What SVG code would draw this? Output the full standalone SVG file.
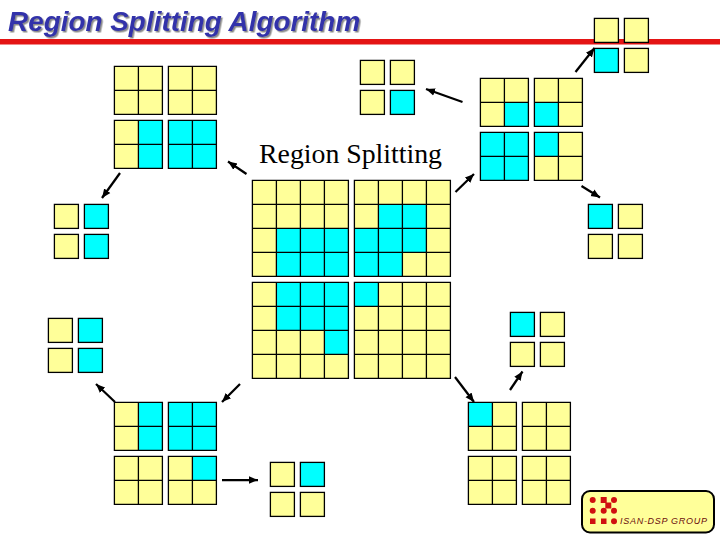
<svg xmlns="http://www.w3.org/2000/svg" width="720" height="540" viewBox="0 0 720 540">
<style>
.y{fill:#ffff99}
.c{fill:#00ffff}
.s{fill:#ffff99;stroke:#000;stroke-width:1.3}
.t{fill:#00ffff;stroke:#000;stroke-width:1.3}
.g{fill:none;stroke:#000;stroke-width:1.3}
.a{fill:none;stroke:#000;stroke-width:2.25;marker-end:url(#ah)}
.r{fill:#d01010}
</style>
<defs>
<marker id="ah" markerUnits="userSpaceOnUse" markerWidth="10" markerHeight="10" refX="9" refY="5" orient="auto"><path d="M0 1.2L9 5L0 8.8z" fill="#000"/></marker>
<path id="g2" class="g" d="M0 0h48v48h-48zM24 0v48M0 24h48"/>
<path id="g4" class="g" d="M0 0h96v96h-96zM24 0v96M48 0v96M72 0v96M0 24h96M0 48h96M0 72h96"/>
<filter id="sh" x="-5%" y="-20%" width="110%" height="150%"><feDropShadow dx="1.5" dy="1.5" stdDeviation="0.6" flood-color="#8a8a8a" flood-opacity="1"/></filter>
</defs>
<rect width="720" height="540" fill="#fff"/>
<rect x="0" y="39" width="720" height="5.5" fill="#e41414"/>
<text x="8" y="31" font-family="'Liberation Sans',Arial,sans-serif" font-size="27.9" font-weight="bold" font-style="italic" fill="#3333aa" filter="url(#sh)">Region Splitting Algorithm</text>
<text x="259" y="163" font-family="'Liberation Serif','Times New Roman',serif" font-size="27.8" fill="#000">Region Splitting</text>

<g id="main">
<g id="main-tl" transform="translate(252.4,180.4)"><rect class="y" width="96" height="96"/><path class="c" d="M24 48h72v48h-72z"/><use href="#g4"/></g>
<g id="main-tr" transform="translate(354.4,180.4)"><rect class="y" width="96" height="96"/><path class="c" d="M24 24h48v48h-24v24h-48v-48h24z"/><use href="#g4"/></g>
<g id="main-bl" transform="translate(252.4,282.4)"><rect class="y" width="96" height="96"/><path class="c" d="M24 0h72v72h-24v-24h-48z"/><use href="#g4"/></g>
<g id="main-br" transform="translate(354.4,282.4)"><rect class="y" width="96" height="96"/><rect class="c" width="24" height="24"/><use href="#g4"/></g>
</g>

<g id="top-left">
<g transform="translate(114.4,66.4)"><rect class="y" width="48" height="48"/><use href="#g2"/></g>
<g transform="translate(168.4,66.4)"><rect class="y" width="48" height="48"/><use href="#g2"/></g>
<g transform="translate(114.4,120.4)"><rect class="y" width="48" height="48"/><rect class="c" x="24" width="24" height="48"/><use href="#g2"/></g>
<g transform="translate(168.4,120.4)"><rect class="c" width="48" height="48"/><use href="#g2"/></g>
</g>

<g id="top-right">
<g transform="translate(480.4,78.4)"><rect class="y" width="48" height="48"/><rect class="c" x="24" y="24" width="24" height="24"/><use href="#g2"/></g>
<g transform="translate(534.4,78.4)"><rect class="y" width="48" height="48"/><rect class="c" y="24" width="24" height="24"/><use href="#g2"/></g>
<g transform="translate(480.4,132.4)"><rect class="c" width="48" height="48"/><use href="#g2"/></g>
<g transform="translate(534.4,132.4)"><rect class="y" width="48" height="48"/><rect class="c" width="24" height="24"/><use href="#g2"/></g>
</g>

<g id="bottom-left">
<g transform="translate(114.4,402.4)"><rect class="y" width="48" height="48"/><rect class="c" x="24" width="24" height="48"/><use href="#g2"/></g>
<g transform="translate(168.4,402.4)"><rect class="c" width="48" height="48"/><use href="#g2"/></g>
<g transform="translate(114.4,456.4)"><rect class="y" width="48" height="48"/><use href="#g2"/></g>
<g transform="translate(168.4,456.4)"><rect class="y" width="48" height="48"/><rect class="c" x="24" width="24" height="24"/><use href="#g2"/></g>
</g>

<g id="bottom-right">
<g transform="translate(468.4,402.4)"><rect class="y" width="48" height="48"/><rect class="c" width="24" height="24"/><use href="#g2"/></g>
<g transform="translate(522.4,402.4)"><rect class="y" width="48" height="48"/><use href="#g2"/></g>
<g transform="translate(468.4,456.4)"><rect class="y" width="48" height="48"/><use href="#g2"/></g>
<g transform="translate(522.4,456.4)"><rect class="y" width="48" height="48"/><use href="#g2"/></g>
</g>

<g id="quad-top-mid"><rect class="s" x="360.4" y="60.4" width="24" height="24"/><rect class="s" x="390.4" y="60.4" width="24" height="24"/><rect class="s" x="360.4" y="90.4" width="24" height="24"/><rect class="t" x="390.4" y="90.4" width="24" height="24"/></g>
<g id="quad-top-right"><rect class="s" x="594.4" y="18.4" width="24" height="24"/><rect class="s" x="624.4" y="18.4" width="24" height="24"/><rect class="t" x="594.4" y="48.4" width="24" height="24"/><rect class="s" x="624.4" y="48.4" width="24" height="24"/></g>
<g id="quad-right"><rect class="t" x="588.4" y="204.4" width="24" height="24"/><rect class="s" x="618.4" y="204.4" width="24" height="24"/><rect class="s" x="588.4" y="234.4" width="24" height="24"/><rect class="s" x="618.4" y="234.4" width="24" height="24"/></g>
<g id="quad-left-top"><rect class="s" x="54.4" y="204.4" width="24" height="24"/><rect class="t" x="84.4" y="204.4" width="24" height="24"/><rect class="s" x="54.4" y="234.4" width="24" height="24"/><rect class="t" x="84.4" y="234.4" width="24" height="24"/></g>
<g id="quad-left-bottom"><rect class="s" x="48.4" y="318.4" width="24" height="24"/><rect class="t" x="78.4" y="318.4" width="24" height="24"/><rect class="s" x="48.4" y="348.4" width="24" height="24"/><rect class="t" x="78.4" y="348.4" width="24" height="24"/></g>
<g id="quad-bottom-mid"><rect class="s" x="270.4" y="462.4" width="24" height="24"/><rect class="t" x="300.4" y="462.4" width="24" height="24"/><rect class="s" x="270.4" y="492.4" width="24" height="24"/><rect class="s" x="300.4" y="492.4" width="24" height="24"/></g>
<g id="quad-right-mid"><rect class="t" x="510.4" y="312.4" width="24" height="24"/><rect class="s" x="540.4" y="312.4" width="24" height="24"/><rect class="s" x="510.4" y="342.4" width="24" height="24"/><rect class="s" x="540.4" y="342.4" width="24" height="24"/></g>

<g id="connectors">
<line class="a" x1="246.5" y1="174" x2="228" y2="161.5"/>
<line class="a" x1="120" y1="173" x2="102" y2="198"/>
<line class="a" x1="462.5" y1="102" x2="426" y2="89"/>
<line class="a" x1="575.5" y1="72" x2="594.5" y2="48"/>
<line class="a" x1="455.5" y1="192" x2="474" y2="174"/>
<line class="a" x1="581.5" y1="186" x2="600" y2="197.5"/>
<line class="a" x1="240" y1="384" x2="222" y2="402"/>
<line class="a" x1="115" y1="402" x2="96" y2="384"/>
<line class="a" x1="222" y1="480" x2="258" y2="480"/>
<line class="a" x1="455" y1="377" x2="474" y2="402"/>
<line class="a" x1="510" y1="390" x2="522.5" y2="371.5"/>
</g>

<g id="logo">
<rect x="582" y="491" width="132" height="41.5" rx="8" ry="8" fill="#ffff99" stroke="#000" stroke-width="2"/>
<circle class="r" cx="592.7" cy="500" r="3"/><rect class="r" x="600.7" y="497" width="6" height="6"/><circle class="r" cx="614" cy="500" r="3"/>
<rect class="r" x="605.3" y="502.5" width="6" height="6"/>
<circle class="r" cx="592.7" cy="510.7" r="3"/><circle class="r" cx="603.7" cy="510.7" r="3"/><circle class="r" cx="614" cy="510.7" r="3"/>
<rect class="r" x="590" y="518.5" width="5.5" height="5.5"/><rect class="r" x="601" y="518.5" width="5.5" height="5.5"/><circle class="r" cx="614" cy="521.3" r="3"/>
<text x="620" y="524" font-family="'Liberation Sans',Arial,sans-serif" font-size="9" font-style="italic" fill="#6a0c0c" textLength="87" lengthAdjust="spacing">ISAN-DSP GROUP</text>
</g>
</svg>
